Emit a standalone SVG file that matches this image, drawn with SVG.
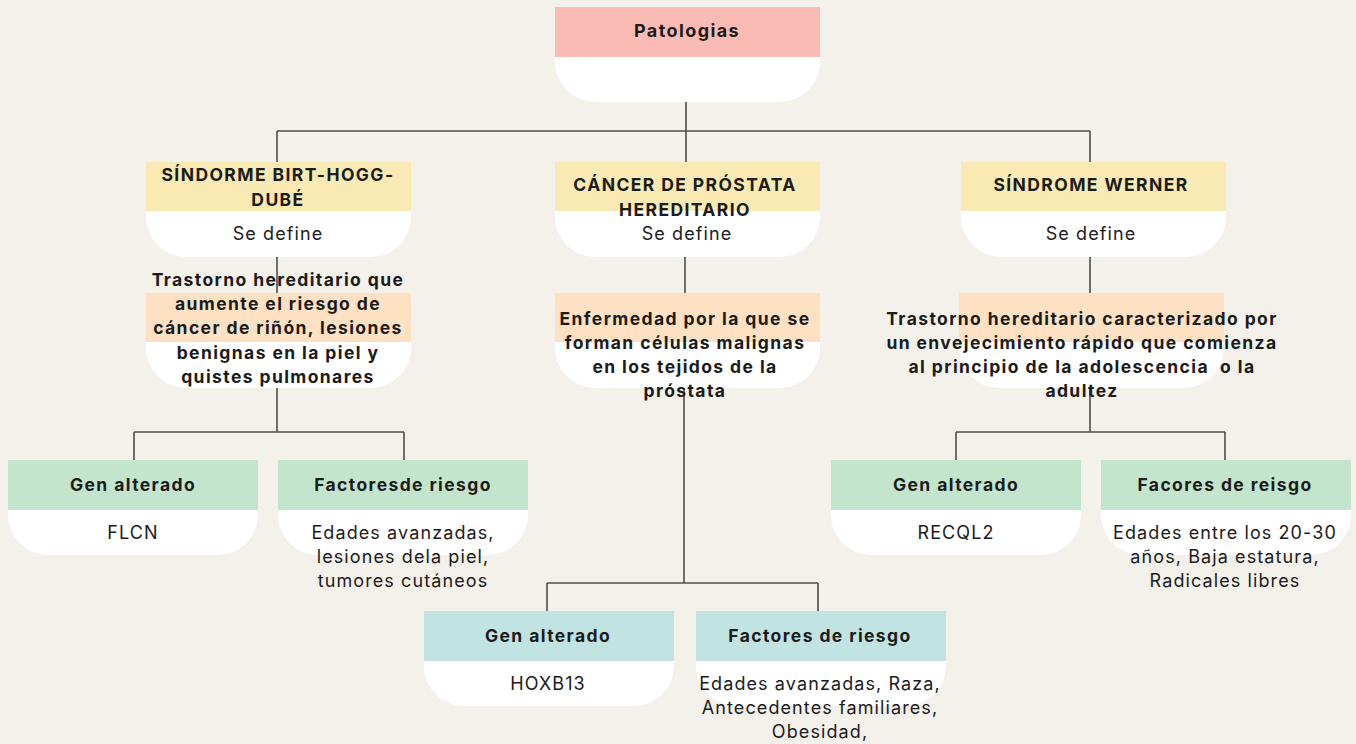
<svg xmlns="http://www.w3.org/2000/svg" xmlns:xlink="http://www.w3.org/1999/xlink" width="1356" height="744" viewBox="0 0 1356 744">
<style>
.bg{fill:#f4f0ea}
.body{fill:#ffffff}
.pink{fill:#fbbbb5}
.yellow{fill:#f8eab2}
.orange{fill:#fde1c2}
.green{fill:#c3e5cb}
.teal{fill:#c1e3e1}
.t{font-family:Inter,"Noto Sans","Liberation Sans",sans-serif;fill:#1b1b1b;text-anchor:middle}
.b{font-weight:700;font-size:17.5px;letter-spacing:1.4px}
.r{font-weight:400;font-size:18px;letter-spacing:1.1px}
.conn{stroke:#4f4f4f;stroke-width:1.6;fill:none}
</style>
<defs>
<path id="shL" d="M0 0H265V55A40 40 0 0 1 225 95H40A40 40 0 0 1 0 55Z"/>
<path id="shS" d="M0 0H250V55A40 40 0 0 1 210 95H40A40 40 0 0 1 0 55Z"/>
</defs>
<rect class="bg" x="0" y="0" width="1356" height="744"/>

<g id="connectors">
<path class="conn" d="M686 102V131M277 131H1090M277 131V162M686 131V162M1090 131V162"/>
<path class="conn" d="M277 257V293M685 257V293M1090 257V293"/>
<path class="conn" d="M277 388V432M134 432H404M134 432V460M404 432V460"/>
<path class="conn" d="M1090 388V432M956 432H1225M956 432V460M1225 432V460"/>
<path class="conn" d="M684 388V583M547 583H818M547 583V611M818 583V611"/>
</g>

<g id="n-patologias" transform="translate(555,7)">
<use href="#shL" class="body"/><rect class="pink" width="265" height="50"/>
<text class="t b" x="132" y="30" style="font-size:18px">Patologias</text>
</g>

<g id="n-birt" transform="translate(146,162)">
<use href="#shL" class="body"/><rect class="yellow" width="265" height="49"/>
<text class="t b" x="132" y="19">SÍNDORME BIRT-HOGG-</text>
<text class="t b" x="132" y="44">DUBÉ</text>
<text class="t r" x="132" y="78">Se define</text>
</g>

<g id="n-prostata" transform="translate(555,162)">
<use href="#shL" class="body"/><rect class="yellow" width="265" height="49"/>
<text class="t b" x="130" y="29">CÁNCER DE PRÓSTATA</text>
<text class="t b" x="130" y="54">HEREDITARIO</text>
<text class="t r" x="132" y="78">Se define</text>
</g>

<g id="n-werner" transform="translate(961,162)">
<use href="#shL" class="body"/><rect class="yellow" width="265" height="49"/>
<text class="t b" x="130" y="29">SÍNDROME WERNER</text>
<text class="t r" x="130" y="78">Se define</text>
</g>

<g id="n-def-birt" transform="translate(146,293)">
<use href="#shL" class="body"/><rect class="orange" width="265" height="49"/>
<text class="t b" x="132" y="-7">Trastorno hereditario que</text>
<text class="t b" x="132" y="17">aumente el riesgo de</text>
<text class="t b" x="132" y="41">cáncer de riñón, lesiones</text>
<text class="t b" x="132" y="66">benignas en la piel y</text>
<text class="t b" x="132" y="90">quistes pulmonares</text>
</g>

<g id="n-def-prostata" transform="translate(555,293)">
<use href="#shL" class="body"/><rect class="orange" width="265" height="49"/>
<text class="t b" x="130" y="32">Enfermedad por la que se</text>
<text class="t b" x="130" y="56">forman células malignas</text>
<text class="t b" x="130" y="80">en los tejidos de la</text>
<text class="t b" x="130" y="104">próstata</text>
</g>

<g id="n-def-werner" transform="translate(959,293)">
<use href="#shL" class="body"/><rect class="orange" width="265" height="49"/>
<text class="t b" x="123" y="32">Trastorno hereditario caracterizado por</text>
<text class="t b" x="123" y="56">un envejecimiento rápido que comienza</text>
<text class="t b" x="123" y="80" xml:space="preserve">al principio de la adolescencia  o la</text>
<text class="t b" x="123" y="104">adultez</text>
</g>

<g id="n-gen-birt" transform="translate(8,460)">
<use href="#shS" class="body"/><rect class="green" width="250" height="50"/>
<text class="t b" x="125" y="31">Gen alterado</text>
<text class="t r" x="125" y="79">FLCN</text>
</g>

<g id="n-fac-birt" transform="translate(278,460)">
<use href="#shS" class="body"/><rect class="green" width="250" height="50"/>
<text class="t b" x="125" y="31">Factoresde riesgo</text>
<text class="t r" x="125" y="79">Edades avanzadas,</text>
<text class="t r" x="125" y="103">lesiones dela piel,</text>
<text class="t r" x="125" y="127">tumores cutáneos</text>
</g>

<g id="n-gen-werner" transform="translate(831,460)">
<use href="#shS" class="body"/><rect class="green" width="250" height="50"/>
<text class="t b" x="125" y="31">Gen alterado</text>
<text class="t r" x="125" y="79">RECQL2</text>
</g>

<g id="n-fac-werner" transform="translate(1101,460)">
<use href="#shS" class="body"/><rect class="green" width="250" height="50"/>
<text class="t b" x="124" y="31">Facores de reisgo</text>
<text class="t r" x="124" y="79">Edades entre los 20-30</text>
<text class="t r" x="124" y="103">años, Baja estatura,</text>
<text class="t r" x="124" y="127">Radicales libres</text>
</g>

<g id="n-gen-prostata" transform="translate(424,611)">
<use href="#shS" class="body"/><rect class="teal" width="250" height="50"/>
<text class="t b" x="124" y="31">Gen alterado</text>
<text class="t r" x="124" y="79">HOXB13</text>
</g>

<g id="n-fac-prostata" transform="translate(696,611)">
<use href="#shS" class="body"/><rect class="teal" width="250" height="50"/>
<text class="t b" x="124" y="31">Factores de riesgo</text>
<text class="t r" x="124" y="79">Edades avanzadas, Raza,</text>
<text class="t r" x="124" y="103">Antecedentes familiares,</text>
<text class="t r" x="124" y="127">Obesidad,</text>
</g>
</svg>
